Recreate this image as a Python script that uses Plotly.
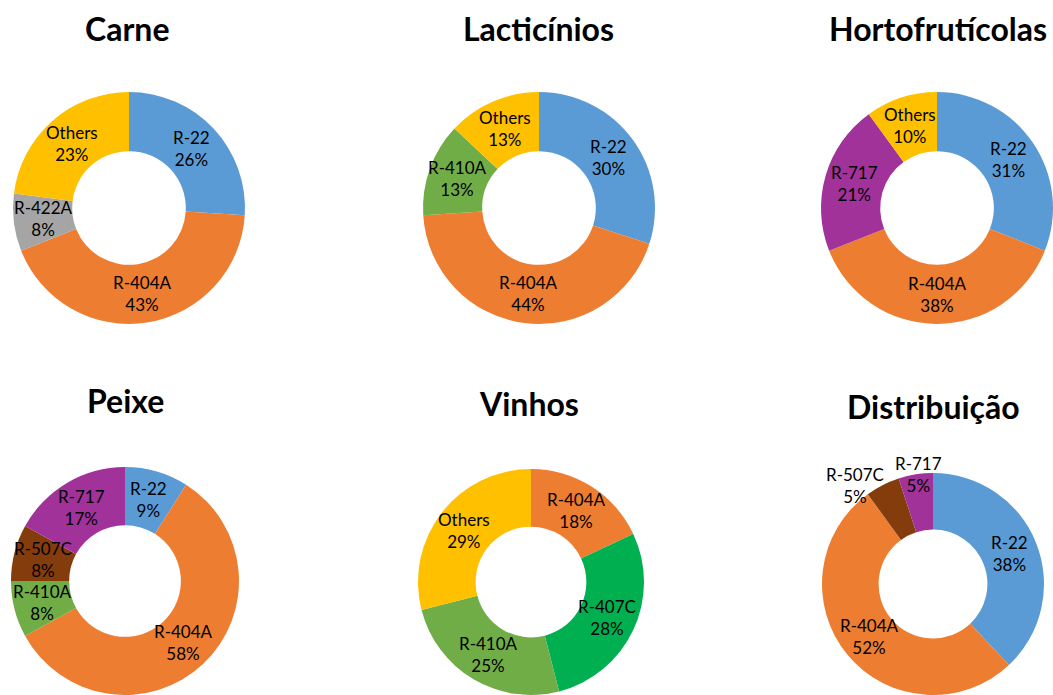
import math
import plotly.graph_objects as go

W, H = 1053, 695

titles = ["Carne", "Lacticínios", "Hortofrutícolas", "Peixe", "Vinhos", "Distribuição"]

carne_labels = ["R-22", "R-404A", "R-422A", "Others"]
carne_values = [26, 43, 8, 23]
lact_labels = ["R-22", "R-404A", "R-410A", "Others"]
lact_values = [30, 44, 13, 13]
horto_labels = ["R-22", "R-404A", "R-717", "Others"]
horto_values = [31, 38, 21, 10]
peixe_labels = ["R-22", "R-404A", "R-410A", "R-507C", "R-717"]
peixe_values = [9, 58, 8, 8, 17]
vinhos_labels = ["R-404A", "R-407C", "R-410A", "Others"]
vinhos_values = [18, 28, 25, 29]
distrib_labels = ["R-22", "R-404A", "R-507C", "R-717"]
distrib_values = [38, 52, 5, 5]

COLORS = {
    "R-22": "#5B9BD5",
    "R-404A": "#ED7D31",
    "R-422A": "#A5A5A5",
    "Others": "#FFC000",
    "R-410A": "#70AD47",
    "R-717": "#A0329A",
    "R-507C": "#843C0C",
    "R-407C": "#00B050",
}

data = [
    (carne_labels, carne_values),
    (lact_labels, lact_values),
    (horto_labels, horto_values),
    (peixe_labels, peixe_values),
    (vinhos_labels, vinhos_values),
    (distrib_labels, distrib_values),
]

# layout: pixel centers and radius
centers = [(129, 208), (539, 208), (937, 208), (125, 581), (531, 582), (933, 584)]
radii = [116, 116, 116, 114, 113, 111]
HOLE = 0.49
title_pos = [(127, 28), (538, 28), (938, 28), (125, 400), (529, 403), (933, 407)]

# labels placed outside the ring: (chart index, label) -> (radius factor, dx, dy in px)
outside_labels = {
    (5, "R-507C"): (1.0, -28, 0),
    (5, "R-717"): (1.0, 3, 0),
}

LABEL_FONT = dict(family="Lato, sans-serif", size=17, color="black")

fig = go.Figure()
for i, ((labels, values), (cx, cy), r) in enumerate(zip(data, centers, radii)):
    fig.add_trace(go.Pie(
        labels=labels,
        values=values,
        hole=HOLE,
        sort=False,
        direction="clockwise",
        rotation=0,
        marker=dict(colors=[COLORS[l] for l in labels], line=dict(width=0)),
        textinfo="none",
        hoverinfo="label+percent",
        showlegend=False,
        domain=dict(
            x=[max(0, (cx - r) / W), min(1, (cx + r) / W)],
            y=[max(0, (H - cy - r) / H), min(1, (H - cy + r) / H)],
        ),
    ))
    # data labels at the middle of each slice
    total = sum(values)
    cum = 0
    for lab, v in zip(labels, values):
        theta = 2 * math.pi * (cum + v / 2) / total
        cum += v
        rho = r * (1 + HOLE) / 2
        dx = dy = 0
        if (i, lab) in outside_labels:
            f, dx, dy = outside_labels[(i, lab)]
            rho = r * f
        px = cx + rho * math.sin(theta) + dx
        py = cy - rho * math.cos(theta) + dy
        fig.add_annotation(
            text=f"{lab}<br>{round(100 * v / total)}%",
            x=px / W, y=1 - py / H, xref="paper", yref="paper",
            xanchor="center", yanchor="middle", showarrow=False,
            font=LABEL_FONT, align="center",
        )

for t, (tx, ty) in zip(titles, title_pos):
    fig.add_annotation(
        text="<b>" + t + "</b>", x=tx / W, y=1 - ty / H, xref="paper", yref="paper",
        xanchor="center", yanchor="middle", showarrow=False,
        font=dict(family="Lato, sans-serif", size=32, color="black"),
    )

fig.update_layout(
    width=W, height=H,
    margin=dict(l=0, r=0, t=0, b=0),
    paper_bgcolor="white", plot_bgcolor="white",
)

fig.write_html("out.html")
